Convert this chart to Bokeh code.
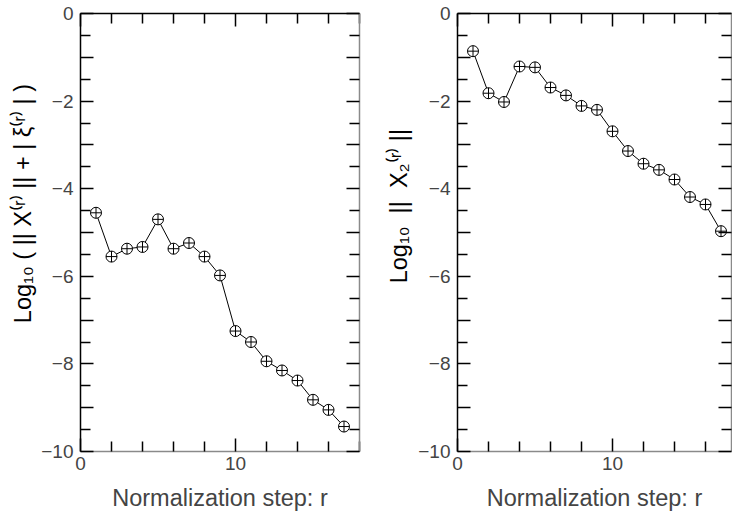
import math
from bokeh.plotting import figure
from bokeh.layouts import row
from bokeh.models import FixedTicker, LinearAxis, Range1d, ColumnDataSource
from bokeh.core.properties import value
from bokeh.embed import file_html
from bokeh.resources import INLINE

# ---- data ----
steps = list(range(1, 18))
left_vals = [-4.55, -5.55, -5.37, -5.33, -4.70, -5.37, -5.24, -5.55, -5.98,
             -7.25, -7.50, -7.94, -8.15, -8.38, -8.82, -9.05, -9.43]
right_vals = [-0.86, -1.82, -2.02, -1.21, -1.23, -1.69, -1.87, -2.11, -2.20,
              -2.69, -3.14, -3.43, -3.57, -3.79, -4.19, -4.36, -4.97]

y_major = list(range(-10, 1))
y_minor = [v + 0.5 for v in range(-10, 0)]
y_labels = {v: (("\u2212%d" % -v) if v < 0 else "0") if v % 2 == 0 else "" for v in y_major}
x_major = [0, 10]
x_minor = [2, 4, 6, 8, 12, 14, 16, 18]
x_labels = {0: "0", 10: "10"}
x_title = "Normalization step: r"
ylab_left = "Log\u2081\u2080 ( || X\u207d\u02b3\u207e || + | \u03be\u207d\u02b3\u207e | )"
ylab_right = "Log\u2081\u2080\u00a0\u00a0||\u00a0\u00a0X\u2082\u207d\u02b3\u207e ||"

FONT = "Liberation Sans"
TICK_FS = "19px"
MAIN = 23.5
MID = 0.33   # em-box middle above the baseline
H = 515


def make_axis(ticks, minor, labels, line_color, show_labels, standoff=7):
    ax = LinearAxis(ticker=FixedTicker(ticks=ticks, minor_ticks=minor))
    ax.major_tick_in = 13
    ax.major_tick_out = 0
    ax.minor_tick_in = 10
    ax.minor_tick_out = 0
    ax.major_tick_line_color = "black"
    ax.minor_tick_line_color = "black"
    ax.major_tick_line_width = 1.5
    ax.minor_tick_line_width = 1.5
    ax.axis_line_color = line_color
    ax.axis_line_width = 1.5
    ax.major_label_text_font = FONT
    if show_labels:
        ax.major_label_overrides = labels
        ax.major_label_text_font_size = TICK_FS
        ax.major_label_standoff = standoff
    else:
        ax.major_label_overrides = {k: "" for k in ticks}
        ax.major_label_text_font_size = "1px"
        ax.major_label_standoff = 0
    return ax


def make_panel(vals, x_end, width, bl, br):
    p = figure(width=width, height=H, x_range=Range1d(0, x_end), y_range=Range1d(-10, 0),
               output_backend="svg", toolbar_location=None,
               min_border_left=bl, min_border_right=br, min_border_top=13, min_border_bottom=64,
               x_axis_location=None, y_axis_location=None)
    p.grid.grid_line_color = None
    p.outline_line_color = None
    p.background_fill_color = "white"
    p.border_fill_color = "white"
    below = make_axis(x_major, x_minor, x_labels, "#8a8a8a", True, standoff=5)
    below.axis_label = x_title
    below.axis_label_text_font = FONT
    below.axis_label_text_font_size = "%.1fpx" % MAIN
    below.axis_label_text_font_style = "normal"
    below.axis_label_standoff = 12
    p.add_layout(below, "below")
    p.add_layout(make_axis(x_major, x_minor, x_labels, "black", False), "above")
    p.add_layout(make_axis(y_major, y_minor, y_labels, "black", True), "left")
    p.add_layout(make_axis(y_major, y_minor, y_labels, "#8a8a8a", False), "right")
    p.line(steps, vals, line_color="black", line_width=1)
    p.scatter(steps, vals, marker="circle_cross", size=11, fill_color="white",
              line_color="black", line_width=1)
    return p


def label_fig(width, text, base_x, center_y):
    f = figure(width=width, height=H, x_range=Range1d(0, width), y_range=Range1d(H, 0),
               output_backend="svg", toolbar_location=None, min_border=0,
               x_axis_location=None, y_axis_location=None)
    f.grid.grid_line_color = None
    f.outline_line_color = None
    f.border_fill_color = "white"
    f.background_fill_color = "white"
    src = ColumnDataSource(dict(x=[base_x - MID * MAIN], y=[center_y], text=[text]))
    f.text(x="x", y="y", text="text", source=src, angle=math.pi / 2,
           text_font=value(FONT), text_font_size="%.1fpx" % MAIN, text_align="center",
           text_baseline="middle", text_color="black")
    return f


lab1 = label_fig(38, ylab_left, 30, 223.5)
p1 = make_panel(left_vals, 18, 332, 42, 11)
lab2 = label_fig(44, ylab_right, 36, 226.5)
p2 = make_panel(right_vals, 274 / 15.5, 318, 43, 1)

layout = row(lab1, p1, lab2, p2)
open("out.html", "w").write(file_html(layout, INLINE))
